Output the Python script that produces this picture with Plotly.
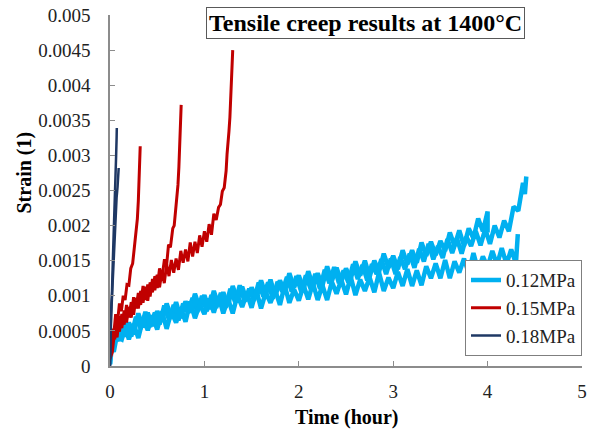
import plotly.graph_objects as go

# ---------------- data (time in hours, strain dimensionless) ----------------
GRID_A = [0.1, 0.15, 0.2, 0.25, 0.3, 0.35, 0.4, 0.45, 0.5, 0.55, 0.6, 0.65, 0.7, 0.75, 0.8,
          0.85, 0.9, 0.95, 1.0, 1.05, 1.1, 1.15, 1.2, 1.25, 1.3, 1.35, 1.4, 1.45, 1.5, 1.55,
          1.6, 1.65, 1.7, 1.75, 1.8, 1.85, 1.9, 1.95, 2.0, 2.05, 2.1, 2.15, 2.2, 2.25, 2.3,
          2.35, 2.4, 2.45, 2.5, 2.55, 2.6, 2.65, 2.7, 2.75, 2.8, 2.85, 2.9, 2.95, 3.0, 3.05,
          3.1, 3.15, 3.2, 3.25, 3.3, 3.35, 3.4, 3.45, 3.5, 3.55, 3.6, 3.65, 3.7, 3.75, 3.8,
          3.85, 3.9, 3.95, 4.0, 4.05, 4.1, 4.15, 4.2, 4.25, 4.3]
GRID_B = [0.125, 0.175, 0.225, 0.275, 0.325, 0.375, 0.425, 0.475, 0.525, 0.575, 0.625, 0.675,
          0.725, 0.775, 0.825, 0.875, 0.925, 0.975, 1.025, 1.075, 1.125, 1.175, 1.225, 1.275,
          1.325, 1.375, 1.425, 1.475, 1.525, 1.575, 1.625, 1.675, 1.725, 1.775, 1.825, 1.875,
          1.925, 1.975, 2.025, 2.075, 2.125, 2.175, 2.225, 2.275, 2.325, 2.375, 2.425, 2.475,
          2.525, 2.575, 2.625, 2.675, 2.725, 2.775, 2.825, 2.875, 2.925, 2.975, 3.025, 3.075,
          3.125, 3.175, 3.225, 3.275, 3.325, 3.375, 3.425, 3.475, 3.525, 3.575, 3.625, 3.675,
          3.725, 3.775, 3.825, 3.875, 3.925, 3.975, 4.025, 4.075, 4.125, 4.175, 4.225, 4.275,
          4.325, 4.375]

# 0.12 MPa, specimen 1 (ends ~4.0 h)
t_012_a = [0, 0.01, 0.03, 0.06, 0.08] + GRID_A[:79] + [4.0]
s_012_a = [0.00003, 0.00030, 0.00022, 0.00050, 0.00038,
           0.00060, 0.00042, 0.00062, 0.00045, 0.00075, 0.00055, 0.00076, 0.00057, 0.00078, 0.00063,
           0.00089, 0.00069, 0.00091, 0.00068, 0.00092, 0.00076, 0.00103, 0.00083, 0.00101, 0.00081,
           0.00107, 0.00086, 0.00105, 0.00086, 0.00114, 0.00094, 0.00113, 0.00093, 0.00112, 0.00096,
           0.00122, 0.00101, 0.00123, 0.00099, 0.00122, 0.00106, 0.00132, 0.00112, 0.00129, 0.00109,
           0.00135, 0.00114, 0.00132, 0.00114, 0.00142, 0.00121, 0.00140, 0.00120, 0.00139, 0.00124,
           0.00149, 0.00129, 0.00150, 0.00127, 0.00150, 0.00134, 0.00160, 0.00140, 0.00157, 0.00138,
           0.00165, 0.00145, 0.00165, 0.00147, 0.00176, 0.00157, 0.00177, 0.00158, 0.00178, 0.00164,
           0.00190, 0.00171, 0.00193, 0.00171, 0.00196, 0.00182, 0.00210, 0.00192, 0.00220,
           0.00190]

# 0.12 MPa, specimen 2 (ends ~4.41 h)
t_012_b = [0, 0.015, 0.04, 0.07, 0.1] + GRID_B + [4.395, 4.41]
s_012_b = [0.00008, 0.00035, 0.00028, 0.00052, 0.00040,
           0.00038, 0.00061, 0.00042, 0.00070, 0.00053, 0.00077, 0.00056, 0.00076, 0.00059, 0.00086,
           0.00066, 0.00087, 0.00065, 0.00089, 0.00076, 0.00097, 0.00077, 0.00100, 0.00078, 0.00101,
           0.00083, 0.00104, 0.00083, 0.00110, 0.00091, 0.00115, 0.00092, 0.00110, 0.00093, 0.00119,
           0.00099, 0.00119, 0.00096, 0.00120, 0.00106, 0.00127, 0.00106, 0.00128, 0.00106, 0.00129,
           0.00110, 0.00131, 0.00110, 0.00137, 0.00118, 0.00141, 0.00118, 0.00136, 0.00119, 0.00145,
           0.00124, 0.00144, 0.00122, 0.00145, 0.00131, 0.00152, 0.00131, 0.00153, 0.00131, 0.00155,
           0.00138, 0.00160, 0.00140, 0.00167, 0.00149, 0.00174, 0.00152, 0.00171, 0.00154, 0.00181,
           0.00161, 0.00182, 0.00160, 0.00184, 0.00171, 0.00192, 0.00172, 0.00195, 0.00174, 0.00200,
           0.00183, 0.00207, 0.00192, 0.00227, 0.00221, 0.00261,
           0.00245, 0.00270]

# 0.12 MPa, specimen 3 (ends ~4.32 h)
t_012_c = [0, 0.02, 0.04, 0.07] + GRID_A + [4.31, 4.32]
s_012_c = [0.00002, 0.00028, 0.00020, 0.00042,
           0.00036, 0.00061, 0.00038, 0.00060, 0.00040, 0.00067, 0.00051, 0.00072, 0.00052, 0.00078,
           0.00053, 0.00077, 0.00062, 0.00083, 0.00063, 0.00092, 0.00068, 0.00088, 0.00074, 0.00096,
           0.00076, 0.00099, 0.00075, 0.00096, 0.00075, 0.00101, 0.00084, 0.00104, 0.00083, 0.00108,
           0.00082, 0.00105, 0.00090, 0.00108, 0.00087, 0.00115, 0.00090, 0.00109, 0.00093, 0.00115,
           0.00095, 0.00118, 0.00094, 0.00115, 0.00094, 0.00120, 0.00103, 0.00123, 0.00102, 0.00127,
           0.00101, 0.00123, 0.00107, 0.00126, 0.00105, 0.00133, 0.00107, 0.00126, 0.00111, 0.00134,
           0.00114, 0.00138, 0.00114, 0.00136, 0.00115, 0.00142, 0.00125, 0.00146, 0.00125, 0.00151,
           0.00125, 0.00149, 0.00133, 0.00153, 0.00132, 0.00161, 0.00136, 0.00156, 0.00141, 0.00164,
           0.00144, 0.00168, 0.00145, 0.00166, 0.00146,
           0.00172, 0.00188]

# 0.15 MPa, three specimens
t_015_a = [0, 0.02, 0.04, 0.06, 0.08, 0.1, 0.12, 0.14, 0.16, 0.18, 0.2, 0.22, 0.24, 0.26,
           0.27, 0.28, 0.29, 0.3, 0.305, 0.31, 0.315, 0.32]
s_015_a = [0.00020, 0.00053, 0.00045, 0.00074, 0.00063, 0.00089, 0.00078, 0.00100, 0.00094,
           0.00116, 0.00115, 0.00139, 0.00146, 0.00173, 0.00180, 0.00195, 0.00210, 0.00235,
           0.00250, 0.00265, 0.00280, 0.00313]

t_015_b = [0, 0.025, 0.05, 0.075, 0.1, 0.125, 0.15, 0.175, 0.2, 0.225, 0.25, 0.275, 0.3,
           0.325, 0.35, 0.375, 0.4, 0.425, 0.45, 0.475, 0.5, 0.525, 0.55,
           0.577, 0.6, 0.62, 0.64, 0.665, 0.68, 0.695, 0.71, 0.72, 0.73, 0.74, 0.747, 0.751, 0.754]
s_015_b = [0.00020, 0.00049, 0.00038, 0.00067, 0.00049, 0.00074, 0.00059, 0.00087, 0.00069,
           0.00091, 0.00073, 0.00097, 0.00082, 0.00107, 0.00090, 0.00113, 0.00093, 0.00119,
           0.00105, 0.00128, 0.00111, 0.00139, 0.00125,
           0.00152, 0.00144, 0.00173, 0.00169, 0.00196, 0.00200, 0.00222, 0.00236, 0.00258,
           0.00284, 0.00312, 0.00332, 0.00352, 0.00372]

t_015_c = [0, 0.025, 0.05, 0.075, 0.1, 0.125, 0.15, 0.175, 0.2, 0.225, 0.25, 0.275, 0.3,
           0.325, 0.35, 0.375, 0.4, 0.425, 0.45, 0.475, 0.5, 0.525, 0.55, 0.575, 0.6, 0.625,
           0.65, 0.675, 0.7, 0.725, 0.75, 0.775, 0.8, 0.825, 0.85, 0.875, 0.9, 0.925, 0.95,
           0.975, 1.0, 1.025, 1.05, 1.075, 1.1,
           1.125, 1.15, 1.17, 1.19, 1.21, 1.22, 1.23, 1.24, 1.25, 1.26, 1.27, 1.277, 1.285,
           1.293, 1.30]
s_015_c = [0.00010, 0.00020, 0.00051, 0.00041, 0.00071, 0.00054, 0.00079, 0.00062, 0.00084,
           0.00069, 0.00098, 0.00082, 0.00104, 0.00087, 0.00114, 0.00094, 0.00116, 0.00099,
           0.00124, 0.00108, 0.00130, 0.00112, 0.00135, 0.00118, 0.00145, 0.00128, 0.00151,
           0.00133, 0.00153, 0.00137, 0.00164, 0.00147, 0.00166, 0.00149, 0.00176, 0.00156,
           0.00177, 0.00161, 0.00186, 0.00170, 0.00192, 0.00177, 0.00202, 0.00187, 0.00217,
           0.00208, 0.00226, 0.00230, 0.00249, 0.00254, 0.00266, 0.00278, 0.00302, 0.00315,
           0.00334, 0.00354, 0.00380, 0.00405, 0.00428, 0.00450]

# 0.18 MPa, two specimens
t_018_a = [0, 0.003, 0.008, 0.015, 0.02, 0.03, 0.04, 0.05, 0.055, 0.06, 0.065, 0.07, 0.072]
s_018_a = [0, 0.00040, 0.00060, 0.00090, 0.00100, 0.00150, 0.00205, 0.00240, 0.00255,
           0.00275, 0.00300, 0.00325, 0.00339]
t_018_b = [0, 0.005, 0.012, 0.02, 0.03, 0.04, 0.05, 0.06, 0.07, 0.08, 0.085, 0.09, 0.092]
s_018_b = [0, 0.00050, 0.00070, 0.00095, 0.00125, 0.00160, 0.00190, 0.00215, 0.00240,
           0.00255, 0.00265, 0.00275, 0.00282]

SERIES_NAMES = ["0.12MPa", "0.15MPa", "0.18MPa"]
X_TICKS = [0, 1, 2, 3, 4, 5]
Y_TICKS = [0, 0.0005, 0.001, 0.0015, 0.002, 0.0025, 0.003, 0.0035, 0.004, 0.0045, 0.005]
Y_TICK_TEXT = ["0", "0.0005", "0.001", "0.0015", "0.002", "0.0025", "0.003", "0.0035",
               "0.004", "0.0045", "0.005"]

# ---------------- figure ----------------
SERIF = "Liberation Serif, Times New Roman, serif"
COLORS = {"0.12MPa": "#00B0F0", "0.15MPa": "#C00000", "0.18MPa": "#1F3864"}
WIDTHS = {"0.12MPa": 4.5, "0.15MPa": 3, "0.18MPa": 2.5}

groups = [
    ("0.12MPa", [(t_012_a, s_012_a), (t_012_b, s_012_b), (t_012_c, s_012_c)]),
    ("0.15MPa", [(t_015_a, s_015_a), (t_015_b, s_015_b), (t_015_c, s_015_c)]),
    ("0.18MPa", [(t_018_a, s_018_a), (t_018_b, s_018_b)]),
]

fig = go.Figure()
for name, runs in groups:
    for i, (tt, ss) in enumerate(runs):
        fig.add_trace(go.Scatter(
            x=tt, y=ss, mode="lines", name=name, legendgroup=name,
            showlegend=(i == 0),
            line=dict(color=COLORS[name], width=WIDTHS[name]),
        ))

axis_common = dict(
    showline=True, linecolor="#8c8c8c", linewidth=1.5,
    ticks="inside", ticklen=5, tickwidth=1.2, tickcolor="#8c8c8c",
    showgrid=False, zeroline=False, automargin=False, ticklabeloverflow="allow",
    tickfont=dict(family=SERIF, size=19, color="#222222"),
)

fig.update_layout(
    width=593, height=430,
    margin=dict(l=110, r=11, t=15, b=64, autoexpand=False),
    paper_bgcolor="white", plot_bgcolor="white",
    xaxis=dict(range=[0, 5], tickvals=X_TICKS, ticklabelstandoff=7, **axis_common),
    yaxis=dict(range=[0, 0.005], tickvals=Y_TICKS, ticktext=Y_TICK_TEXT,
               ticklabelstandoff=14, **axis_common),
    legend=dict(
        x=1.0, xanchor="right", y=0.028, yanchor="bottom",
        bordercolor="#7f7f7f", borderwidth=1, bgcolor="white",
        font=dict(family=SERIF, size=19, color="#222222"),
        itemwidth=30, tracegroupgap=0,
    ),
    annotations=[
        dict(text="<b>Tensile creep results at 1400°C</b>", xref="paper", yref="paper",
             x=0.541, y=0.976, xanchor="center", yanchor="middle", showarrow=False,
             font=dict(family=SERIF, size=24, color="black"),
             bordercolor="#595959", borderwidth=1, borderpad=2, bgcolor="white"),
        dict(text="<b>Strain (1)</b>", xref="paper", yref="paper",
             x=-0.181, y=0.55, xanchor="center", yanchor="middle", showarrow=False,
             textangle=-90, font=dict(family=SERIF, size=20, color="black")),
        dict(text="<b>Time (hour)</b>", xref="paper", yref="paper",
             x=0.5016, y=-0.148, xanchor="center", yanchor="middle", showarrow=False,
             font=dict(family=SERIF, size=20, color="black")),
    ],
)

# remove the default 8px page margin so the 593x430 figure fills the window exactly
fig.write_html("out.html",
               config={"displayModeBar": False},
               post_script="document.body.style.margin='0';"
                           "document.body.style.overflow='hidden';")
